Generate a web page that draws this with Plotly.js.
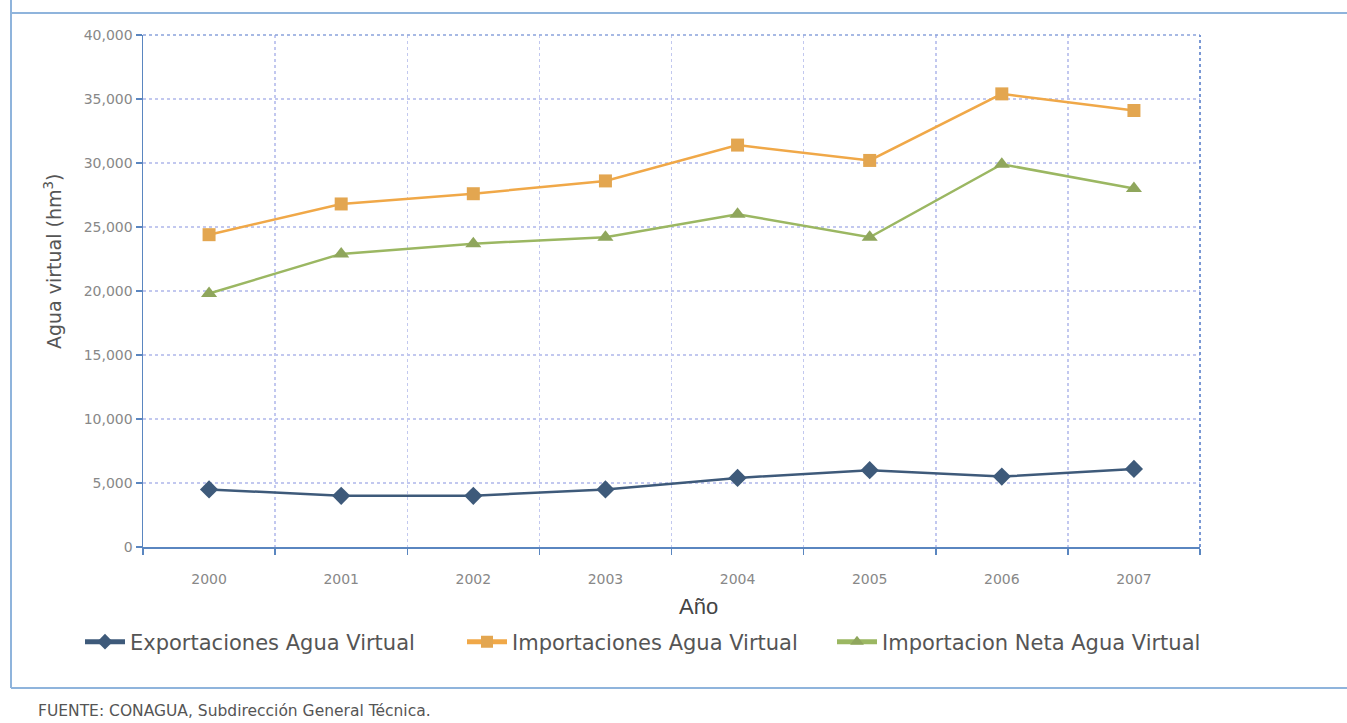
<!DOCTYPE html>
<html>
<head>
<meta charset="utf-8">
<script src="https://cdn.plot.ly/plotly-3.0.1.min.js"></script>
<style>html,body{margin:0;padding:0;background:#fff;}#chart{width:1347px;height:723px;}</style>
</head>
<body>
<div id="chart"></div>
<script>
const years = ["2000","2001","2002","2003","2004","2005","2006","2007"];
const exportaciones = [4500, 4000, 4000, 4500, 5400, 6000, 5500, 6100];
const importaciones = [24400, 26800, 27600, 28600, 31400, 30200, 35400, 34100];
const importacionNeta = [19800, 22900, 23700, 24200, 26000, 24200, 29900, 28000];
const seriesNames = ["Exportaciones Agua Virtual", "Importaciones Agua Virtual", "Importacion Neta Agua Virtual"];
const yTicks = [0, 5000, 10000, 15000, 20000, 25000, 30000, 35000, 40000];
const yTickText = ["0", "5,000", "10,000", "15,000", "20,000", "25,000", "30,000", "35,000", "40,000"];

const W = 1347, H = 723;
const L = 143, R = 1200, T = 35, B = 547;
const px = p => (p - L) / (R - L);
const py = p => (B - p) / (B - T);

const traces = [
  {x: years, y: exportaciones, name: seriesNames[0], type: 'scatter', mode: 'lines+markers', legend: 'legend',
   line: {color: '#3e5a7a', width: 2.5}, marker: {symbol: 'diamond', size: 14, color: '#3e5a7a'}},
  {x: years, y: importaciones, name: seriesNames[1], type: 'scatter', mode: 'lines+markers', legend: 'legend2',
   line: {color: '#f0a848', width: 2.5}, marker: {symbol: 'square', size: 13, color: '#e3a650'}},
  {x: years, y: importacionNeta, name: seriesNames[2], type: 'scatter', mode: 'lines+markers', legend: 'legend3',
   line: {color: '#9bb762', width: 2.5}, marker: {symbol: 'triangle-up', size: 14, color: '#8fa65c'}}
];

const frameColor = '#8fb4dc';
const gridColor = '#c2c8ef';
const legendFont = {family: 'DejaVu Sans, sans-serif', size: 21, color: '#555'};
const mkLegend = (textX) => ({orientation: 'h', x: px(textX - 50), xanchor: 'left', y: py(642), yanchor: 'middle',
  font: legendFont, itemwidth: 40, itemsizing: 'constant', bgcolor: 'rgba(0,0,0,0)'});

const layout = {
  width: W, height: H,
  margin: {l: L, r: W - R, t: T, b: H - B},
  paper_bgcolor: '#ffffff', plot_bgcolor: '#ffffff',
  font: {family: 'DejaVu Sans, sans-serif', color: '#666'},
  showlegend: true,
  legend: mkLegend(130),
  legend2: mkLegend(512),
  legend3: mkLegend(882),
  xaxis: {type: 'category', tickson: 'boundaries', range: [-0.5, 7.5],
          showgrid: true, gridcolor: gridColor, griddash: 'dot', gridwidth: 1.5,
          showline: true, linecolor: '#5a86c0', linewidth: 1.5,
          ticks: 'outside', ticklen: 6, tickcolor: '#5a86c0', tickwidth: 1.5,
          ticklabelstandoff: 19,
          tickfont: {family: 'DejaVu Sans, sans-serif', size: 14, color: '#888'},
          zeroline: false, fixedrange: true},
  yaxis: {range: [0, 40000], tickvals: yTicks, ticktext: yTickText,
          showgrid: true, gridcolor: gridColor, griddash: 'dot', gridwidth: 1.5,
          showline: true, linecolor: '#5a86c0', linewidth: 1.5,
          ticks: 'outside', ticklen: 6, tickcolor: '#5a86c0', tickwidth: 1.5,
          tickfont: {family: 'DejaVu Sans, sans-serif', size: 14, color: '#888'}, zeroline: false, fixedrange: true},
  shapes: [
    {type: 'line', xref: 'paper', yref: 'paper', x0: 0, x1: 1, y0: 1, y1: 1, line: {color: '#8aa3dc', width: 1.5, dash: 'dot'}},
    {type: 'line', xref: 'paper', yref: 'paper', x0: 1, x1: 1, y0: 0, y1: 1, line: {color: '#7a98d4', width: 2, dash: 'dot'}},
    {type: 'line', xref: 'paper', yref: 'paper', x0: px(11), x1: px(1347), y0: py(13), y1: py(13), line: {color: frameColor, width: 2}},
    {type: 'line', xref: 'paper', yref: 'paper', x0: px(11), x1: px(11), y0: py(0), y1: py(688), line: {color: frameColor, width: 2}},
    {type: 'line', xref: 'paper', yref: 'paper', x0: px(11), x1: px(1347), y0: py(688), y1: py(688), line: {color: frameColor, width: 2}}
  ],
  annotations: [
    {text: 'Agua virtual (hm<sup>3</sup>)', xref: 'paper', yref: 'paper', x: px(53), y: py(262),
     textangle: -90, showarrow: false, font: {family: 'DejaVu Sans, sans-serif', size: 19, color: '#555'}, xanchor: 'center', yanchor: 'middle'},
    {text: 'Año', xref: 'paper', yref: 'paper', x: px(698), y: py(606),
     showarrow: false, xanchor: 'center', yanchor: 'middle', font: {family: 'Liberation Sans, Arial, sans-serif', size: 22, color: '#444'}},
    {text: 'FUENTE: CONAGUA, Subdirección General Técnica.', xref: 'paper', yref: 'paper', x: px(36), y: py(711),
     showarrow: false, xanchor: 'left', yanchor: 'middle', font: {family: 'DejaVu Sans, sans-serif', size: 15.5, color: '#555'}}
  ]
};

Plotly.newPlot('chart', traces, layout, {displayModeBar: false, staticPlot: true});
</script>
</body>
</html>
